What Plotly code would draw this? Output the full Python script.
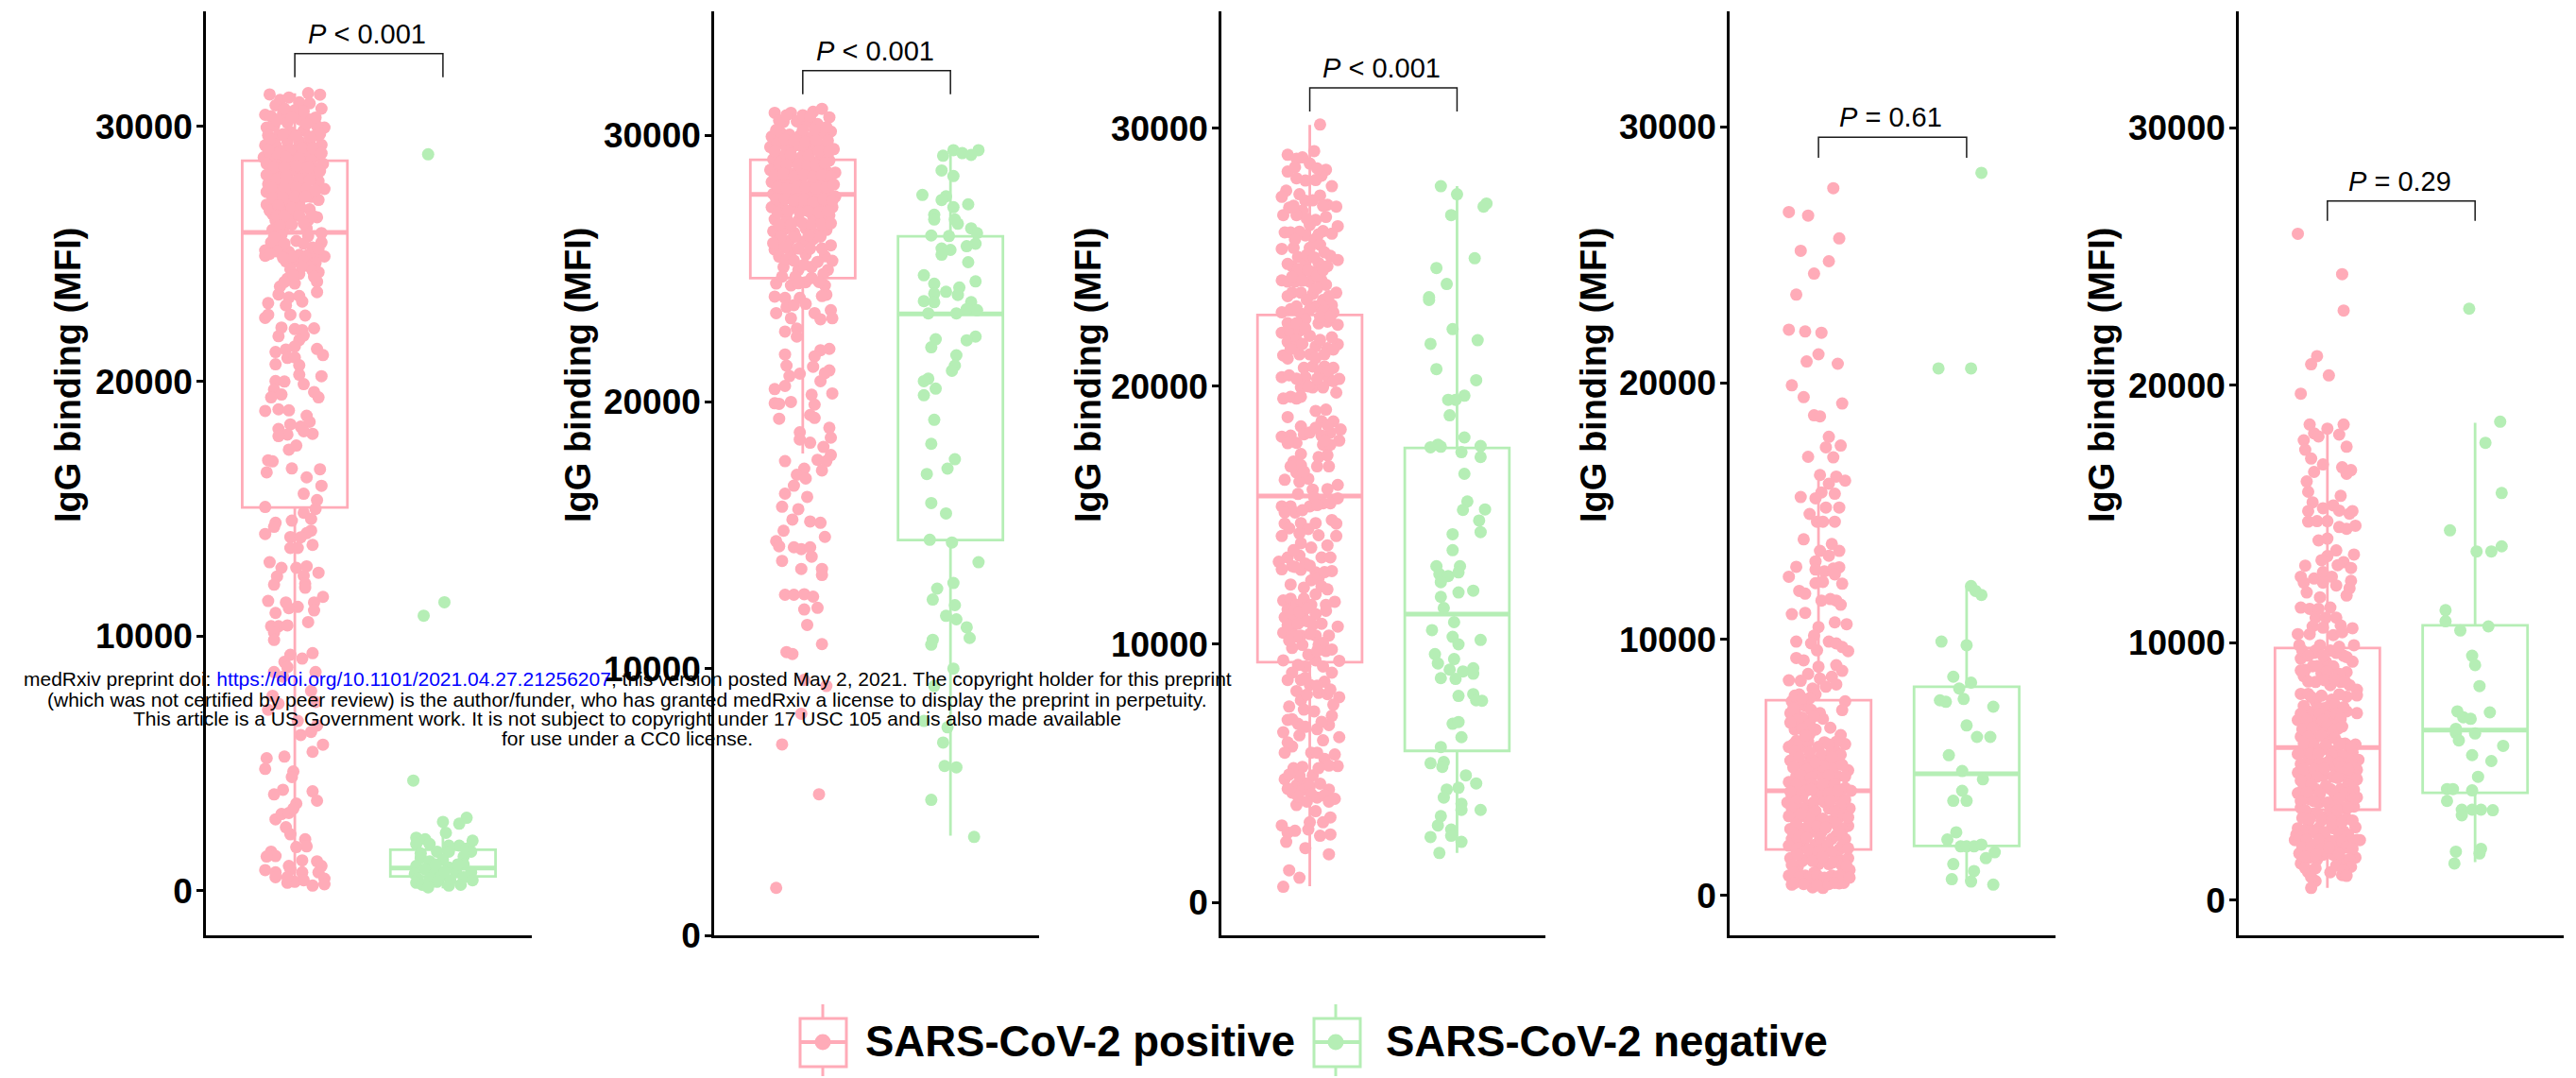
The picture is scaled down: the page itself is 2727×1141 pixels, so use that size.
import plotly.graph_objects as go

W, H = 2727, 1141
PINK, GREEN = "#FFABB8", "#B5EEB5"
FONT = "Liberation Sans"

groups = ["SARS-CoV-2 positive", "SARS-CoV-2 negative"]
y_tick_values = [0, 10000, 20000, 30000]
y_tick_labels = ["0", "10000", "20000", "30000"]
p_labels = ["<i>P</i> &lt; 0.001", "<i>P</i> &lt; 0.001", "<i>P</i> &lt; 0.001", "<i>P</i> = 0.61", "<i>P</i> = 0.29"]
bracket_top = [32860, 32420, 31570, 29590, 27160]
bracket_tip = [31930, 31540, 30660, 28790, 26390]

pos_low = [300, 18070, 620, 320, 480]
pos_q1 = [15050, 24640, 9310, 1800, 3520]
pos_med = [25840, 27780, 15750, 4090, 5930]
pos_q3 = [28660, 29080, 22770, 7625, 9800]
pos_up = [31300, 30960, 30140, 16300, 18250]
neg_low = [100, 3740, 1910, 550, 1480]
neg_q1 = [570, 14820, 5870, 1940, 4180]
neg_med = [900, 23300, 11170, 4750, 6610]
neg_q3 = [1620, 26210, 17610, 8150, 10680]
neg_up = [2480, 29420, 27760, 12080, 18550]

# each point: (horizontal jitter in hundredths of a category, MFI)
p1_pos = [(-17,31260),(9,31310),(17,31250),(-10,31040),(-4,31140),(3,30950),(10,30910),(18,30700),(-13,30830),(-20,30460),(-16,30400),(-8,30520),(0,30640),(10,30270),(20,29960),(-19,29960),(-14,30020),(-5,30150),(4,30270),(15,30020),(-18,29650),(-11,29650),(-3,29780),(6,29840),(14,29650),(18,29280),(-20,29260),(-13,29280),(-5,29410),(3,29410),(10,29340),(-21,28790),(-16,28910),(-9,29040),(0,29040),(8,28910),(15,28910),(-19,28540),(-11,28600),(-4,28670),(4,28540),(11,28670),(19,28540),(-16,28110),(-9,28230),(-1,28290),(6,28170),(14,28170),(-18,27740),(-10,27800),(-3,27860),(5,27800),(16,27860),(20,27550),(-19,27430),(-11,27430),(-4,27430),(4,27430),(11,27240),(16,27120),(-19,26930),(-13,27060),(-5,27060),(3,27060),(-15,26560),(-9,26690),(0,26560),(10,26750),(15,26440),(-13,26320),(-5,26320),(9,26320),(8,26010),(-15,25950),(-8,25950),(18,25820),(-11,25640),(1,25510),(9,25700),(18,25450),(-16,25450),(-20,25140),(-14,25270),(-20,24930),(-9,25080),(-4,25080),(3,24960),(9,24960),(15,24960),(20,24900),(-6,24710),(0,24710),(6,24710),(14,24650),(-3,24400),(3,24220),(16,24280),(-5,24030),(0,23840),(15,23910),(15,23500),(-10,23720),(-11,23410),(-4,23290),(3,23350),(5,23130),(-6,22980),(-18,23070),(-20,22490),(-18,22610),(-3,22610),(7,22580),(-9,22110),(13,22080),(0,22050),(5,22010),(-11,21770),(6,21800),(3,21620),(0,21370),(15,21270),(19,21030),(-13,21150),(-6,21250),(-5,20920),(0,20940),(3,20630),(-13,20670),(18,20200),(3,20260),(-13,20010),(-7,19990),(6,19890),(-14,19680),(-9,19480),(-16,19370),(13,19580),(16,19370),(-20,18840),(-11,18900),(-4,18860),(8,18650),(10,18410),(-11,18130),(-3,18310),(4,18220),(-5,17910),(-11,17850),(12,17940),(6,18040),(1,17480),(-4,17320),(-18,16900),(-15,16860),(-2,16580),(17,16550),(-19,16430),(8,16230),(18,15900),(6,15590),(15,15340),(-20,15070),(14,14990),(6,14840),(11,14600),(-2,14530),(-13,14450),(-14,14290),(-20,14010),(11,14140),(8,14040),(-3,13890),(4,13880),(12,13580),(-3,13460),(2,13460),(-17,12900),(-9,12680),(1,12680),(8,12740),(-12,12340),(6,12370),(16,12490),(-14,12020),(7,12060),(7,11900),(19,11540),(-18,11380),(-6,11320),(13,11320),(2,11150),(-4,11100),(13,11010),(-13,10910),(9,10550),(-16,10390),(-11,10390),(-5,10420),(-14,10140),(-14,9850),(12,9330),(-3,9270),(5,9120),(-7,8990),(-5,8780),(14,8590),(-14,8590),(-8,8410),(11,7850),(-15,7660),(14,7420),(-18,7110),(-11,7350),(2,6670),(15,6490),(11,6240),(4,6120),(19,5740),(12,5460),(-19,5210),(-7,5270),(-20,4790),(-1,4690),(-2,4470),(-8,3970),(-14,3790),(12,3910),(15,3540),(1,3430),(-13,2810),(-9,3020),(-4,3060),(-1,3230),(-6,2500),(-3,2220),(7,2030),(8,1750),(1,1720),(-16,1540),(-13,1370),(-19,1350),(5,1200),(-4,980),(15,1160),(18,980),(-20,820),(-13,730),(-3,850),(5,730),(16,730),(20,480),(-5,320),(0,360),(6,420),(12,210),(20,260),(-13,540),(-5,540)]
p1_pos_dense = [(-7,30700),(6,30600),(14,30350),(-2,30350),(-12,30250),(8,30100),(17,29700),(-17,29500),(-8,29700),(1,29650),(10,29600),(-3,29100),(5,29150),(12,29150),(-12,28950),(-18,29100),(18,28950),(-6,28800),(3,28750),(13,28400),(-14,28400),(-7,28400),(1,28450),(9,28400),(17,28250),(-19,28100),(-12,27950),(-6,28050),(3,27950),(10,27900),(-16,27600),(-7,27600),(1,27600),(8,27550),(14,27500),(-15,27200),(-8,27200),(0,27250),(7,27250),(-17,26700),(-11,26900),(-2,26800),(4,26800),(-12,26500),(-7,26500),(3,26500),(12,26500),(6,26200),(-10,26100),(-2,26150),(-9,25750),(-14,25650),(-7,25400),(-12,25100),(-17,25000),(12,25250),(16,25200),(6,25400),(-2,24900),(10,24500),(-8,24850),(5,24500),(12,24350),(-1,24150),(13,24100),(-7,23900)]
p1_neg = [(-10,28910),(1,11330),(-13,10800),(-20,4330),(16,2870),(0,2710),(11,2640),(2,2280),(-18,2090),(-12,2030),(20,1970),(11,1780),(4,1780),(-18,1840),(-9,1840),(16,1660),(-15,1470),(-4,1540),(4,1540),(19,1540),(14,1350),(-15,1290),(0,1230),(-9,1160),(-18,980),(14,1040),(-12,850),(4,920),(19,730),(-19,670),(-5,730),(9,730),(-2,540),(-17,480),(-9,480),(14,540),(5,420),(20,420),(-18,320),(-4,360),(12,240),(-14,240),(4,210),(-10,140),(1,730),(10,1040),(-5,1040)]

p2_pos = [(-19,30840),(-8,30840),(7,30880),(13,30990),(18,30670),(-13,30500),(-4,30520),(3,30480),(10,30420),(19,30140),(-21,29950),(-15,30100),(-9,30020),(-2,29980),(5,29900),(12,30050),(-22,29560),(-17,29700),(-11,29500),(-5,29620),(1,29450),(8,29540),(15,29620),(21,29480),(-20,29100),(-14,29200),(-7,29030),(-1,29180),(6,29000),(12,29150),(18,29050),(-22,28700),(-16,28800),(-10,28620),(-3,28700),(4,28600),(10,28720),(16,28650),(22,28600),(-21,28250),(-14,28300),(-8,28200),(-1,28350),(6,28150),(13,28280),(19,28150),(-20,27800),(-15,27900),(-9,27750),(-2,27880),(4,27700),(11,27800),(17,27900),(22,27700),(-21,27300),(-14,27350),(-6,27300),(1,27450),(8,27250),(14,27400),(20,27300),(-19,26850),(-11,26900),(-3,26800),(7,26950),(13,26850),(18,27000),(-20,26400),(-13,26450),(-6,26350),(2,26500),(10,26300),(16,26450),(-18,26000),(-9,26050),(0,26000),(7,26100),(19,25870),(-19,25710),(-8,25640),(2,25530),(15,25460),(20,25290),(-13,25060),(-3,24950),(6,25060),(17,24950),(-18,24440),(-8,24370),(2,24490),(15,24370),(16,24020),(-19,23950),(-12,23900),(-2,23900),(13,23970),(-11,23560),(-6,23630),(2,23680),(19,23440),(-18,23330),(-8,23140),(8,23330),(12,23100),(20,23140),(-4,22750),(-12,22640),(-4,22450),(-12,21780),(12,21940),(18,21990),(8,21710),(-11,21360),(7,21320),(18,21180),(-2,21060),(15,21080),(-9,20970),(12,20780),(-12,20600),(-19,20480),(20,20320),(6,20270),(-8,20000),(-19,19950),(-16,19930),(8,19900),(5,19510),(-16,19370),(8,19400),(18,19030),(-2,18860),(19,18660),(-2,18590),(5,18470),(14,18310),(19,18010),(10,17830),(16,17780),(-12,17780),(13,17430),(1,17500),(-4,17270),(2,17130),(-6,16860),(-12,16560),(3,16440),(-14,16070),(-3,15980),(-7,15590),(5,15520),(12,15470),(-13,15170),(15,14940),(-18,14780),(-16,14590),(-6,14550),(-1,14480),(5,14550),(6,14200),(-14,14040),(-1,13740),(13,13740),(13,13510),(-12,12770),(-6,12770),(1,12790),(7,12700),(10,12280),(1,12220),(3,11640),(13,10920),(-11,10620),(-7,10550),(1,9580),(16,9350),(-1,8310),(-14,7160),(11,5290),(-18,1780)]
p2_pos_dense = [(-16,30550),(0,30750),(5,30700),(-11,30750),(16,30300),(-18,30200),(0,30200),(8,30200),(-12,29850),(-6,29800),(2,29750),(9,29800),(17,29800),(-19,29400),(-8,29300),(4,29250),(11,29400),(18,29400),(-16,28950),(-11,28900),(-3,28900),(3,28850),(9,28900),(15,28950),(-19,28500),(-13,28550),(-6,28450),(1,28500),(7,28450),(13,28500),(19,28450),(-17,28050),(-11,28000),(-4,28050),(2,28050),(9,28000),(16,28050),(21,28150),(-18,27600),(-12,27600),(-6,27550),(1,27600),(7,27500),(14,27600),(20,27550),(-17,27100),(-10,27150),(-2,27100),(4,27150),(11,27100),(17,27150),(-16,26650),(-8,26650),(0,26700),(6,26650),(13,26650),(19,26700),(-15,26200),(-5,26200),(4,26250),(12,26200),(-20,25950),(-12,25800),(-3,25750),(5,25750),(13,25750),(-16,25450),(-11,25350),(-6,25300),(1,25150),(10,25250),(14,24800),(-5,24700),(-14,24700),(6,24650),(11,24500),(-3,24450)]
p2_neg = [(2,29440),(19,29440),(8,29330),(14,29260),(-5,29230),(-6,28680),(2,28470),(-19,27760),(-3,27710),(-6,27570),(12,27410),(2,27300),(-11,27020),(-11,26840),(3,26840),(5,26680),(14,26510),(18,26330),(-13,26240),(-1,26220),(17,25930),(11,25840),(-6,25750),(0,25700),(-6,25520),(12,25240),(-18,24750),(17,24520),(-11,24430),(6,24290),(-3,24130),(-11,24060),(5,24010),(-18,23780),(-11,23740),(14,23740),(11,23480),(18,23440),(-15,23320),(4,23320),(17,22450),(-10,22350),(11,22310),(-13,22050),(4,21750),(3,21360),(1,21170),(-15,20870),(-18,20780),(-10,20500),(-18,20250),(-11,19330),(-13,18430),(3,17850),(-2,17500),(-16,17300),(-13,16210),(-3,15820),(-14,14830),(1,14730),(19,13990),(2,13210),(-9,13000),(-12,12590),(3,12380),(-3,11980),(4,11850),(11,11550),(13,11150),(-12,11080),(-13,10900),(2,10000),(-11,9350),(-18,8040),(-2,7800),(-5,7230),(-4,6350),(4,6300),(-13,5080),(16,3690)]

p3_pos = [(7,30150),(3,29120),(-15,28980),(-5,28880),(-9,28830),(0,28640),(11,28400),(-15,28330),(8,28170),(-9,28070),(-3,27980),(4,28000),(15,27760),(-16,27590),(-7,27450),(7,27400),(-19,27350),(2,27210),(12,27040),(18,26970),(-14,26930),(-5,26810),(-18,26640),(-9,26640),(4,26450),(11,26570),(0,26260),(19,26210),(9,26020),(-17,25970),(-13,25970),(15,25920),(-3,25850),(4,25730),(-19,25330),(-11,25370),(0,25370),(7,25490),(14,25060),(19,24900),(-8,25020),(6,24780),(-12,24660),(-3,24780),(12,24660),(-5,24420),(2,24420),(-19,24110),(-15,24060),(-10,24060),(0,24060),(8,24110),(11,23940),(18,23630),(-12,23630),(-6,23630),(2,23580),(4,23100),(15,23150),(10,22990),(-19,22870),(-13,22990),(-6,22820),(0,22990),(16,22870),(12,22510),(19,22390),(6,22440),(-19,22080),(-13,22100),(-7,22150),(0,21960),(-15,21720),(-9,21790),(19,21630),(4,21550),(12,21480),(-18,21200),(-7,21240),(0,21240),(10,21240),(16,21430),(-15,21080),(-4,20720),(2,20770),(10,20770),(16,20720),(-19,20360),(-14,20430),(-3,20360),(8,20480),(20,20290),(13,20240),(-6,19960),(2,19960),(9,19960),(18,19760),(-9,19530),(-18,19530),(-13,19600),(4,19050),(11,19100),(-15,18810),(16,18640),(-6,18450),(21,18330),(14,18210),(-19,18050),(-13,18090),(8,18090),(-4,18140),(0,18210),(20,17900),(-9,17810),(9,17740),(14,17740),(-6,17380),(6,17260),(12,17330),(5,16900),(13,16900),(-11,17090),(-9,16660),(-17,16380),(-1,16420),(-7,16300),(19,16180),(12,16020),(2,16000),(-8,15830),(19,15660),(9,15470),(14,15470),(-19,15350),(-13,15350),(0,15350),(-10,15110),(-17,15110),(15,14820),(-6,14700),(4,14700),(-17,14680),(18,14680),(-1,14470),(6,14230),(-19,14200),(18,14200),(-6,13920),(1,13750),(12,13840),(-15,13370),(-7,13440),(8,13370),(14,13370),(-21,13200),(-3,13130),(-19,12910),(-12,13030),(-6,12890),(15,12840),(4,12790),(1,12480),(6,12560),(-13,12320),(8,12250),(12,12130),(4,11940),(-18,11700),(-13,11770),(-4,11770),(17,11650),(-9,11530),(1,11530),(11,11530),(-17,11050),(-11,11050),(-5,11170),(4,11170),(19,10690),(-18,10450),(-12,10450),(-6,10340),(4,10340),(13,10340),(-5,9980),(6,9980),(-12,9860),(11,9740),(-18,9380),(20,9360),(4,9380),(-3,9140),(9,9140),(15,8900),(-15,8620),(-6,8620),(10,8550),(0,8430),(-9,8190),(6,8120),(20,7950),(12,8070),(16,7660),(-6,7830),(-14,7590),(-4,7470),(15,7230),(-15,7070),(-8,6920),(13,6870),(-18,6590),(5,6710),(-7,6470),(20,6400),(9,6280),(-12,6040),(-17,5800),(1,5800),(17,5730),(10,5560),(19,5280),(-11,5200),(-5,5250),(-17,4770),(2,4920),(13,4370),(-9,4540),(-3,4610),(17,4010),(-12,4250),(5,4060),(-9,3770),(4,3530),(-19,2980),(0,3100),(14,3290),(9,3100),(-15,2700),(-10,2770),(-1,2820),(7,2580),(14,2630),(-16,2340),(-3,2100),(13,1860),(-14,1240),(-7,950),(-18,600)]
p3_pos_dense = [(-10,28500),(5,28450),(-3,27200),(9,27000),(-11,27000),(-2,26500),(6,25900),(-7,26000),(-10,25700),(-2,25100),(3,25000),(10,25200),(-15,24750),(-8,24550),(-1,24500),(5,24300),(9,24500),(-12,24250),(-5,24100),(5,23800),(-15,23500),(-2,23350),(9,23350),(13,23500),(-9,23100),(-3,22600),(7,22700),(14,22700),(-15,22450),(-9,22450),(-3,22250),(-11,21500),(-5,21650),(7,21800),(15,21900),(-13,21450),(4,21100),(7,20550),(13,20600),(-9,20300),(-1,20000),(5,20300),(16,20200),(-6,19600),(8,18650),(12,18500),(4,18400),(10,17900),(-15,17800),(-6,16950),(-13,16900),(-4,16700),(3,15700),(5,15400),(-5,15200),(-7,14300),(-14,14500),(-11,13650),(0,13050),(-10,13000),(10,12800),(11,11300),(-4,12200),(-15,11350),(-10,11350),(-7,11250),(-2,11400),(-15,10750),(-8,10800),(-2,10900),(2,10750),(8,10800),(-9,10300),(0,10400),(9,10050),(-14,10150),(-1,9600),(5,9750),(15,9800),(-8,9200),(-12,8900),(-3,8700),(5,8400),(14,8250),(-2,8050),(3,7400),(8,7000),(-12,7100),(-3,6800),(-15,6200),(5,5800),(13,5300),(6,5200),(-7,4900),(-14,4950),(-5,4350),(0,4500),(7,4600),(10,4150),(1,4200),(-15,4400),(-8,4100),(-2,3900),(13,3900)]
p3_neg = [(-11,27760),(0,27450),(20,27090),(18,26970),(-4,26640),(12,24970),(-14,24590),(-7,23970),(-19,23460),(-19,23350),(-3,22220),(14,21790),(-18,21650),(-14,20670),(13,20240),(5,19640),(-6,19480),(-1,19480),(-5,18880),(5,18020),(-13,17740),(-18,17640),(-11,17660),(16,17690),(3,17450),(16,17260),(5,16610),(7,15540),(4,15210),(19,15230),(15,14800),(16,14350),(-3,14270),(-3,13650),(-14,13030),(2,13030),(-12,12720),(-6,12650),(1,12790),(-11,12410),(11,12080),(1,12010),(-11,11840),(-9,11410),(-2,10860),(-17,10550),(-3,10290),(1,10000),(16,10170),(-15,9620),(-2,9430),(-13,9260),(11,9070),(-5,9020),(-11,8690),(-1,8660),(4,8950),(11,8860),(1,8000),(11,8070),(17,7810),(13,7830),(-3,6920),(1,6990),(3,6400),(-11,6020),(-18,5390),(-9,5440),(-10,5250),(6,4920),(13,4610),(-7,4370),(1,4440),(-9,4060),(3,3820),(3,3580),(16,3580),(-11,3340),(-13,2980),(-4,2820),(-4,2580),(-18,2530),(3,2340),(-12,1910)]

p4_pos = [(10,27600),(-20,26670),(-7,26530),(14,25640),(-12,25160),(7,24750),(-3,24270),(-15,23450),(-20,22080),(-9,22010),(2,21960),(0,21120),(-8,20840),(13,20750),(-18,19910),(-10,19450),(16,19200),(-3,18740),(1,18700),(7,17900),(5,17490),(15,17560),(-7,17120),(10,17100),(1,16410),(12,16350),(18,16190),(7,16070),(2,15730),(11,15680),(-12,15550),(-2,15500),(5,15140),(14,15140),(-6,14890),(-1,14590),(3,14590),(11,14590),(-10,13900),(9,13720),(1,13450),(14,13450),(7,13260),(-2,13040),(-15,12830),(14,12810),(-2,12720),(4,12650),(10,12760),(11,12530),(-20,12440),(-2,12190),(3,12240),(16,12170),(-13,11890),(-9,11780),(2,11510),(8,11570),(12,11510),(15,11350),(-18,10980),(-9,11030),(19,10590),(11,10660),(0,10480),(-3,10140),(-15,9910),(-5,9840),(7,9910),(12,9840),(16,9700),(20,9540),(-1,9570),(-15,9270),(-10,9180),(0,8930),(12,8990),(16,8770),(-7,8650),(9,8540),(-20,8400),(-12,8380),(1,8470),(5,8150),(12,8240),(-4,8080),(-13,7850),(-2,7850),(18,7580),(-18,7580),(-9,7400),(16,7240),(-15,7050),(1,7120),(-8,6830),(-19,7120),(-16,6480),(-2,6480),(8,6550),(15,6260),(-15,6030),(4,5980),(18,5910),(-20,5800),(-11,5800),(0,5800),(9,5680),(-19,5270),(13,5270),(-5,5340),(4,5300),(-4,5050),(7,5000),(-11,5110),(20,4890),(-15,4660),(0,4770),(13,4660),(-20,4430),(-9,4360),(7,4310),(18,4200),(22,4090),(-3,4090),(-18,3860),(-11,3860),(1,3860),(11,3860),(18,3740),(-21,3630),(-7,3520),(21,3400),(7,3400),(-15,3130),(-2,3060),(14,3060),(-19,2600),(-11,2600),(20,2720),(13,2720),(2,2490),(-5,2490),(-18,2210),(9,2210),(18,2210),(-11,1920),(-2,1990),(4,1850),(-19,1460),(-7,1460),(13,1460),(20,1460),(-14,1120),(0,1230),(7,1230),(21,1000),(-20,780),(-9,780),(-3,890),(9,780),(18,780),(-18,430),(-4,320),(3,300),(14,480),(-15,2050),(14,1800),(-1,1600),(-8,3150),(8,2900),(-14,4100),(3,4600),(12,5600),(-6,6300),(-13,6700),(-10,3100)]
p4_pos_dense = [(-16,7800),(-6,7700),(-14,7400),(-17,7300),(-5,7250),(-11,6950),(-14,6850),(-19,6750),(-6,6700),(-11,6500),(3,6900),(-17,5900),(-13,5950),(-7,6000),(12,6000),(15,5500),(-16,5600),(-6,5600),(2,5500),(-13,5400),(10,5000),(-17,5000),(-8,4900),(3,5050),(16,5100),(-12,4700),(-5,4600),(7,4700),(18,4650),(-15,4300),(-4,4350),(3,4350),(11,4350),(-19,4050),(-8,4100),(7,4000),(15,4100),(-15,3700),(-3,3650),(4,3650),(15,3500),(-18,3400),(-11,3400),(-2,3300),(11,3300),(17,3150),(-20,3100),(-6,3000),(3,3000),(11,2850),(20,3050),(-15,2800),(-7,2700),(-1,2700),(5,2650),(16,2550),(-17,2450),(-13,2300),(-8,2250),(1,2250),(6,1950),(12,2350),(16,1950),(-20,1950),(-15,1800),(-7,1800),(0,1700),(9,1700),(20,1850),(-18,1200),(-11,1350),(-4,1350),(3,1500),(10,1300),(16,1150),(-17,900),(-13,700),(-6,700),(-1,800),(4,700),(13,750),(19,1150),(-16,500),(-10,450),(-1,400),(7,450),(11,500),(17,500),(21,700),(-14,1600),(14,2500),(8,3700),(-12,3200),(-5,4150),(13,4100),(9,5400),(-2,5200),(7,5900),(-9,6250),(-3,7000),(-11,7700)]
p4_neg = [(10,28200),(-19,20570),(3,20570),(3,12080),(6,11890),(10,11730),(-17,9910),(0,9770),(-9,8540),(3,8310),(-5,8080),(-18,7620),(-14,7560),(-2,7670),(18,7370),(0,6640),(7,6190),(16,6190),(-12,5480),(-3,4860),(11,4540),(-3,4090),(-9,3700),(0,3700),(-7,2470),(-13,2190),(-4,1920),(0,1920),(5,1920),(10,1990),(19,1690),(13,1460),(-9,1230),(5,960),(-10,640),(3,550),(18,430)]

p5_pos = [(-20,25890),(10,24320),(11,22910),(-7,21140),(-11,20820),(1,20390),(-18,19680),(-12,18480),(11,18480),(0,18320),(-9,18140),(-6,18020),(8,18090),(-16,17870),(13,17620),(-15,17500),(-11,17160),(-3,16930),(10,16820),(16,16710),(13,16570),(-9,16640),(-14,16270),(-13,15870),(9,15710),(-10,15460),(4,15340),(-3,15230),(8,15140),(17,15120),(-13,15120),(15,15020),(-13,14710),(-7,14730),(0,14730),(19,14550),(8,14500),(13,14430),(-6,13980),(0,14050),(6,13590),(18,13430),(0,13370),(-4,13210),(11,13140),(-15,13000),(7,13020),(16,12910),(-3,12750),(-18,12570),(-9,12500),(3,12570),(16,12410),(-16,12340),(-3,12340),(-14,11960),(6,12230),(15,12120),(13,11840),(-5,11770),(-18,11370),(-12,11320),(-6,11320),(2,11370),(-8,10980),(-1,10980),(6,10980),(-10,10640),(9,10680),(17,10570),(-3,10590),(-20,10340),(-12,10340),(4,10300),(10,10410),(-19,9910),(18,9910),(-5,9910),(6,9610),(-9,9610),(11,9500),(-18,9390),(17,9270),(-1,9270),(-10,9090),(4,9090),(-18,8930),(13,8860),(-4,8820),(-16,8710),(9,8480),(-8,8480),(2,8360),(15,8360),(20,8180),(-18,8020),(-13,8020),(20,7960),(13,7910),(3,7800),(-8,7730),(-13,7340),(-3,7460),(8,7460),(20,7270),(-20,7000),(-8,7000),(4,7000),(13,7340),(-14,6660),(-3,6660),(7,6660),(-18,6360),(-8,6320),(2,6320),(12,6090),(19,6050),(-15,5750),(-3,5860),(7,5750),(-20,5680),(17,5750),(21,5460),(-8,5360),(12,5360),(-13,5460),(5,5180),(20,5070),(-20,4960),(-13,4840),(-3,4840),(11,4840),(17,4730),(-16,4460),(-8,4320),(2,4320),(9,4320),(-20,4160),(20,4000),(-12,3930),(-5,3820),(15,3930),(4,3710),(-18,3590),(10,3590),(18,3640),(-10,3360),(-1,3250),(6,3250),(13,3180),(-20,2800),(-13,2840),(-6,2800),(4,2800),(19,2840),(11,2680),(-18,2410),(-1,2410),(22,2340),(16,2270),(-22,2340),(-9,2110),(7,2110),(-19,1820),(-12,1660),(-3,1770),(4,1770),(19,1660),(11,1550),(-18,1430),(-7,1590),(13,1200),(-13,1090),(2,1090),(10,980),(-8,750),(-11,480)]
p5_pos_dense = [(-17,9700),(-8,9700),(2,9700),(8,9850),(-13,9500),(-3,9500),(13,9450),(-15,8950),(-7,9100),(0,8900),(8,8800),(-13,8500),(-2,8550),(5,8600),(12,8500),(-11,7900),(-4,7950),(8,8000),(-16,7550),(-7,7450),(0,7500),(5,7600),(11,7500),(-18,7250),(-9,7200),(-5,7250),(1,7150),(6,7250),(-14,7000),(-3,7000),(9,7050),(-17,6650),(-10,6700),(0,6800),(4,6600),(10,6750),(-13,6350),(-4,6400),(5,6300),(14,6000),(-16,6100),(-9,6000),(-1,6050),(8,6100),(16,5950),(-11,5700),(-6,5700),(3,5650),(11,5600),(-18,5300),(-5,5350),(1,5400),(8,5350),(16,5400),(-16,5100),(-9,5100),(-2,5100),(9,5150),(14,5100),(-7,4800),(4,4800),(7,4750),(20,4700),(-18,4650),(-11,4500),(-1,4450),(14,4500),(-14,4200),(-5,4150),(5,4100),(12,4150),(18,4300),(-18,3850),(-9,3850),(0,3800),(8,3950),(18,3950),(-15,3500),(-7,3400),(2,3500),(7,3500),(14,3600),(-17,3200),(-12,3150),(-4,3100),(3,3100),(10,3050),(17,3100),(-16,2650),(-9,2650),(-2,2650),(8,2600),(14,2550),(-21,2550),(-14,2350),(-6,2350),(3,2300),(10,2300),(20,2350),(-17,2050),(-11,2050),(-4,2000),(1,2050),(13,2050),(17,2000),(-15,1700),(-8,1750),(8,1800),(15,1600),(-15,1250),(-8,1250),(6,1350),(16,1300),(11,1150),(-11,900),(13,950)]
p5_neg = [(-4,22980),(17,18590),(7,17770),(18,15820),(-17,14370),(1,13550),(11,13550),(18,13750),(-20,11270),(-20,10840),(9,10640),(-10,10480),(-2,9500),(0,9140),(3,8320),(-12,7340),(-8,7110),(10,7300),(-3,7050),(-13,6660),(-13,6500),(0,6480),(-11,6210),(19,6000),(-2,5640),(11,5410),(2,4800),(-19,4320),(-15,4320),(-2,4270),(-19,3860),(-9,3520),(-2,3520),(4,3520),(12,3500),(-9,3300),(-13,1890),(4,2000),(3,1820),(-14,1430)]

pos_points = [p1_pos + p1_pos_dense, p2_pos + p2_pos_dense, p3_pos + p3_pos_dense, p4_pos + p4_pos_dense, p5_pos + p5_pos_dense]
neg_points = [p1_neg, p2_neg, p3_neg, p4_neg, p5_neg]

# layout geometry in page pixels
axis_left = [218, 756, 1293, 1831, 2370]
axis_right = [563, 1100, 1636, 2176, 2714]
plot_top, plot_bottom = 12, 990
y_ranges = [(-1743, 34520), (0, 34645), (-1282, 34540), (-1550, 34500), (-1360, 34530)]
title_x = [72, 612, 1152, 1687, 2225]
TITLE_Y = 397
BOX_WIDTH = 0.71

def fx(x): return x / W
def fy(y): return 1 - y / H

fig = go.Figure()
annotations, shapes = [], []

for i in range(5):
    n = "" if i == 0 else str(i + 1)
    xa, ya = "x" + n, "y" + n
    for cat, col, stats in (
        (1, PINK, (pos_low, pos_q1, pos_med, pos_q3, pos_up)),
        (2, GREEN, (neg_low, neg_q1, neg_med, neg_q3, neg_up)),
    ):
        low, q1, med, q3, up = stats
        fig.add_trace(go.Box(x=[cat], lowerfence=[low[i]], q1=[q1[i]], median=[med[i]], q3=[q3[i]],
                             upperfence=[up[i]], width=BOX_WIDTH, whiskerwidth=0, fillcolor="rgba(0,0,0,0)",
                             line=dict(color=col, width=2.8), xaxis=xa, yaxis=ya, showlegend=False,
                             hoverinfo="skip", name=groups[cat - 1]))
        fig.add_trace(go.Scatter(x=[cat - BOX_WIDTH / 2, cat + BOX_WIDTH / 2], y=[med[i], med[i]], mode="lines",
                                 line=dict(color=col, width=5), xaxis=xa, yaxis=ya, showlegend=False, hoverinfo="skip"))
    for cat, col, pts in ((1, PINK, pos_points[i]), (2, GREEN, neg_points[i])):
        fig.add_trace(go.Scatter(x=[cat + p[0] / 100 for p in pts], y=[p[1] for p in pts], mode="markers",
                                 marker=dict(color=col, size=13, line=dict(width=0)), xaxis=xa, yaxis=ya,
                                 showlegend=False, hoverinfo="skip", name=groups[cat - 1]))
    fig.add_trace(go.Scatter(x=[1, 1, 2, 2], y=[bracket_tip[i], bracket_top[i], bracket_top[i], bracket_tip[i]],
                             mode="lines", line=dict(color="#1a1a1a", width=1.5), xaxis=xa, yaxis=ya,
                             showlegend=False, hoverinfo="skip"))
    annotations.append(dict(x=1.5, y=bracket_top[i], xref=xa, yref=ya, text=p_labels[i], showarrow=False,
                            yanchor="bottom", yshift=3, xshift=-2, font=dict(family=FONT, size=29, color="black")))
    annotations.append(dict(x=fx(title_x[i]), y=fy(TITLE_Y), xref="paper", yref="paper", text="<b>IgG binding (MFI)</b>",
                            textangle=-90, showarrow=False, xanchor="center", yanchor="middle",
                            font=dict(family=FONT, size=38, color="black")))
    key_x = "xaxis" + n
    key_y = "yaxis" + n
    fig.update_layout({
        key_x: dict(domain=[fx(axis_left[i]), fx(axis_right[i])], range=[0.4, 2.6], showgrid=False, zeroline=False,
                    showticklabels=False, ticks="", showline=True, linecolor="black", linewidth=2.5, anchor=ya,
                    automargin=False),
        key_y: dict(domain=[fy(plot_bottom), fy(plot_top)], range=list(y_ranges[i]), showgrid=False, zeroline=False,
                    tickmode="array", tickvals=y_tick_values, ticktext=y_tick_labels, ticks="outside", ticklen=7,
                    tickwidth=2.5, tickcolor="black", showline=True, linecolor="black", linewidth=2.5, anchor=xa,
                    automargin=False, ticklabelstandoff=-3,
                    tickfont=dict(family=FONT, size=37, color="black", weight=700)),
    })

# preprint notice
notice = [
    ("medRxiv preprint doi: <span style='color:blue'>https://doi.org/10.1101/2021.04.27.21256207</span>; this version posted May 2, 2021. The copyright holder for this preprint", 718),
    ("(which was not certified by peer review) is the author/funder, who has granted medRxiv a license to display the preprint in perpetuity.", 740),
    ("This article is a US Government work. It is not subject to copyright under 17 USC 105 and is also made available", 760),
    ("for use under a CC0 license.", 781),
]
for text, y in notice:
    annotations.append(dict(x=fx(664), y=fy(y), xref="paper", yref="paper", text=text, showarrow=False,
                            xanchor="center", yanchor="middle", font=dict(family=FONT, size=21, color="black")))

# legend keys
for cx, box_l, box_r, col, tx, name in ((871, 847, 896, PINK, 915, groups[0]), (1414, 1391, 1440, GREEN, 1466, groups[1])):
    line = dict(color=col, width=3)
    shapes += [
        dict(type="line", xref="paper", yref="paper", x0=fx(cx), x1=fx(cx), y0=fy(1063), y1=fy(1139), line=line),
        dict(type="rect", xref="paper", yref="paper", x0=fx(box_l), x1=fx(box_r), y0=fy(1078), y1=fy(1129),
             line=line, fillcolor="white"),
        dict(type="line", xref="paper", yref="paper", x0=fx(box_l), x1=fx(box_r), y0=fy(1103), y1=fy(1103),
             line=dict(color=col, width=4)),
        dict(type="circle", xref="paper", yref="paper", x0=fx(cx - 8.5), x1=fx(cx + 8.5), y0=fy(1094.5), y1=fy(1111.5),
             line=dict(width=0), fillcolor=col),
    ]
    annotations.append(dict(x=fx(tx), y=fy(1102), xref="paper", yref="paper", text="<b>" + name + "</b>", showarrow=False,
                            xanchor="left", yanchor="middle", xshift=-1, font=dict(family=FONT, size=45.5, color="black")))

fig.update_layout(width=W, height=H, margin=dict(l=0, r=0, t=0, b=0, autoexpand=False), paper_bgcolor="white",
                  plot_bgcolor="white", showlegend=False, annotations=annotations, shapes=shapes, font=dict(family=FONT))
fig.write_html("out.html", config={"displayModeBar": False}, post_script="document.body.style.margin='0';")
